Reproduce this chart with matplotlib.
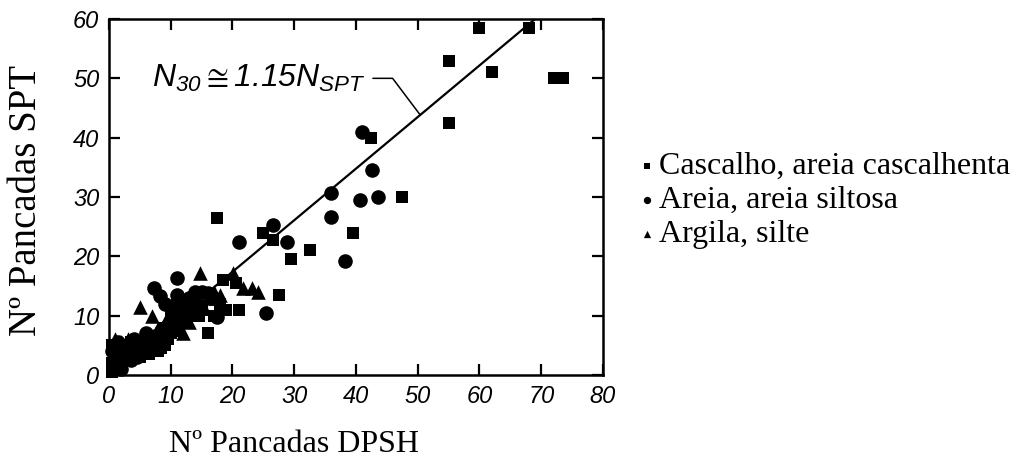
import matplotlib.pyplot as plt
import numpy as np

plt.rcParams['mathtext.fontset'] = 'custom'
plt.rcParams['mathtext.rm'] = 'Liberation Sans:italic'
plt.rcParams['mathtext.it'] = 'Liberation Sans:italic'

# Cascalho, areia cascalhenta
sq_x = [1, 2, 1, 3, 2, 4, 5, 6, 7, 8, 9, 8, 10, 11, 12, 13, 14, 15, 12, 16, 17, 18, 19, 21,
        0.5, 0.5, 1.5, 0.5, 2.5, 3.5, 4.5, 5.5, 6.5, 7.5, 8.5, 9.5, 10.5, 11.5, 12.5, 13.5,
        14.5, 9, 10, 11,
        18.5, 20.5, 17.5, 25, 26.5, 27.5, 29.5, 32.5, 39.5, 42.5, 47.5, 55, 55, 60, 62, 68,
        72, 73.5]
sq_y = [1, 2, 4, 3, 5, 4, 3, 5, 4, 4, 5, 6, 7, 8, 9, 10, 12, 11, 12, 7, 10, 12, 11, 11,
        0.5, 2, 3, 5, 4, 5.5, 5, 4, 3.5, 5, 4.5, 6, 7.5, 9.5, 11, 12.5,
        10, 8, 10, 12.5,
        16, 15.5, 26.5, 24, 22.8, 13.5, 19.5, 21, 24, 40, 30, 42.5, 53, 58.5, 51, 58.5,
        50, 50]

# Areia, areia siltosa
ci_x = [1, 2, 3, 4, 5, 6, 7.3, 8.3, 9, 10, 11, 12, 13, 14, 16, 17.5,
        0.5, 1.5, 3.5, 4.5, 6.5, 7.5, 8.5, 9.5, 10.5, 12.5, 13.5, 15, 16.5, 11,
        21, 25.5, 26.5, 28.8, 36, 36, 38.3, 40.7, 41, 42.6, 43.6]
ci_y = [3, 1, 5, 6, 4, 7, 14.7, 13.3, 12, 9, 16.4, 10, 13, 14, 13.8, 9.8,
        4, 5.5, 2.5, 3, 6, 6.5, 7.5, 8.5, 10.5, 12, 11, 14, 13, 13.5,
        22.4, 10.5, 25.3, 22.4, 30.7, 26.6, 19.2, 29.5, 41, 34.6, 30]

# Argila, silte
tr_x = [3, 5, 7, 9, 11, 12, 15, 16, 1, 2, 4, 6, 8, 10, 13, 14, 17, 18,
        14.7, 20.1, 21.7, 23.2, 24.2]
tr_y = [6, 11.5, 10, 9, 11, 7, 12, 13, 6, 5.5, 5, 6, 8, 8, 9, 11, 14, 13.5,
        17.2, 17.2, 14.7, 14.7, 14]

# linha N30 = 1.15 NSPT
fit_x = np.array([0, 69.5])
fit_ratio = 1.15

xticks = [0, 10, 20, 30, 40, 50, 60, 70, 80]
yticks = [0, 10, 20, 30, 40, 50, 60]

fig = plt.figure(figsize=(10.35, 4.68), dpi=100)
ax = fig.add_axes([0.1053, 0.1987, 0.4773, 0.7607])

ax.plot(fit_x, fit_x / fit_ratio, color='black', lw=1.6, zorder=2)

ax.scatter(sq_x, sq_y, marker='s', s=85, color='black', lw=0, zorder=3, clip_on=False,
           label='Cascalho, areia cascalhenta')
ax.scatter(ci_x, ci_y, marker='o', s=110, color='black', lw=0, zorder=3, clip_on=False,
           label='Areia, areia siltosa')
ax.scatter(tr_x, tr_y, marker='^', s=110, color='black', lw=0, zorder=3, clip_on=False,
           label='Argila, silte')

ax.annotate(r'$N_{30}\cong1.15N_{SPT}$', xy=(50.4, 50.4 / fit_ratio), xytext=(7, 50),
            fontsize=23, va='center', ha='left',
            arrowprops=dict(arrowstyle='-', color='black', lw=1.1, relpos=(1, 0.5),
                            shrinkA=3, shrinkB=0,
                            connectionstyle='angle,angleA=0,angleB=127,rad=0'))

ax.set_xlim(0, 80)
ax.set_ylim(0, 60)
ax.set_xticks(xticks)
ax.set_yticks(yticks)
for lab in ax.get_xticklabels() + ax.get_yticklabels():
    lab.set_fontfamily('Liberation Sans')
    lab.set_fontstyle('italic')
    lab.set_fontsize(17)
ax.tick_params(direction='in', length=8, width=1.6, top=True, right=True, pad=7)
for s in ax.spines.values():
    s.set_linewidth(1.8)

ax.set_xlabel('Nº Pancadas DPSH', family='Liberation Serif', fontsize=23)
ax.set_ylabel('Nº Pancadas SPT', family='Liberation Serif', fontsize=28)
ax.xaxis.set_label_coords(0.375, -0.155)
ax.yaxis.set_label_coords(-0.13, 0.49)

leg = ax.legend(loc='center left', bbox_to_anchor=(1.04, 0.49), frameon=False,
                prop={'family': 'Liberation Serif', 'size': 23}, handletextpad=0.05,
                labelspacing=0.15, markerscale=0.5, handlelength=0.7, borderaxespad=0)

fig.savefig('out.png', dpi=100)
